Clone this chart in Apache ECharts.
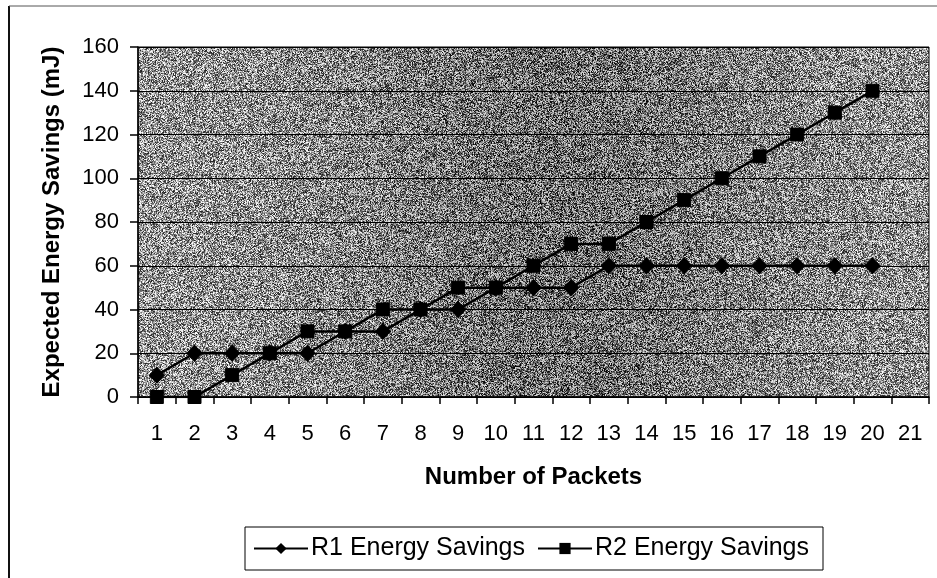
<!DOCTYPE html>
<html>
<head>
<meta charset="utf-8">
<script src="https://cdn.jsdelivr.net/npm/echarts@6.0.0/dist/echarts.min.js"></script>
<style>
    html, body { margin: 0; padding: 0; background: #ffffff; }
    #chart { width: 937px; height: 578px; }
</style>
</head>
<body>
<div id="chart"></div>
<script>
const packets = ["1", "2", "3", "4", "5", "6", "7", "8", "9", "10", "11", "12", "13", "14", "15", "16", "17", "18", "19", "20", "21"];
const r1Savings = [10, 20, 20, 20, 20, 30, 30, 40, 40, 50, 50, 50, 60, 60, 60, 60, 60, 60, 60, 60];
const r2Savings = [0, 0, 10, 20, 30, 30, 40, 40, 50, 50, 60, 70, 70, 80, 90, 100, 110, 120, 130, 140];
const yTicks = [0, 20, 40, 60, 80, 100, 120, 140, 160];

const fontName = "Liberation Sans, Arial, sans-serif";

// speckled grey fill like the scanned plot area (deterministic hash, not data)
function hash(x, y) {
    let n = Math.imul(x, 374761393) + Math.imul(y, 668265263);
    n = Math.imul(n ^ (n >>> 13), 1274126177);
    return ((n ^ (n >>> 16)) >>> 0) / 4294967296;
}

function makeTexture(w, h) {
    let canvas = document.createElement("canvas");
    canvas.width = w;
    canvas.height = h;
    let ctx = canvas.getContext("2d");
    let img = ctx.createImageData(w, h);
    for (let y = 0; y < h; y++) {
        for (let x = 0; x < w; x++) {
            let d = (x - 560) / 230;
            let base = 150 - 40 * Math.exp(-d * d);
            let v = base + (hash(x, y) - 0.5) * 230;
            v = Math.max(0, Math.min(255, v));
            let i = (y * w + x) * 4;
            img.data[i] = v;
            img.data[i + 1] = v;
            img.data[i + 2] = v;
            img.data[i + 3] = 255;
        }
    }
    ctx.putImageData(img, 0, 0);
    return canvas;
}

let chart = echarts.init(document.getElementById("chart"), null, { renderer: "canvas" });

chart.setOption({
    animation: false,
    backgroundColor: "#ffffff",
    textStyle: {
        fontFamily: fontName,
        color: "#000",
    },
    grid: {
        left: 138,
        right: 8,
        top: 47,
        height: 350,
        show: true,
        backgroundColor: {
            image: makeTexture(937, 578),
            repeat: "no-repeat",
        },
        borderColor: "#000",
        borderWidth: 1,
    },
    graphic: [
        {
            type: "line",
            shape: { x1: 9, y1: 6, x2: 9, y2: 578 },
            style: { stroke: "#111", lineWidth: 2 },
        },
        {
            type: "line",
            shape: { x1: 9, y1: 6, x2: 937, y2: 6 },
            style: { stroke: "#555", lineWidth: 1 },
        },
    ],
    legend: {
        left: 245,
        top: 527,
        orient: "horizontal",
        padding: [9, 14, 9, 8],
        itemGap: 12,
        itemWidth: 54,
        itemHeight: 14,
        borderColor: "#000",
        borderWidth: 1,
        backgroundColor: "#fff",
        textStyle: {
            fontFamily: fontName,
            fontSize: 25,
            color: "#000",
            padding: [0, 0, 0, -2],
        },
        data: ["R1 Energy Savings", "R2 Energy Savings"],
    },
    xAxis: {
        type: "category",
        data: packets,
        boundaryGap: true,
        name: "Number of Packets",
        nameLocation: "middle",
        nameGap: 68,
        nameTextStyle: {
            fontFamily: fontName,
            fontSize: 24,
            fontWeight: "bold",
            color: "#000",
        },
        axisLine: { lineStyle: { color: "#000", width: 1.5 } },
        axisTick: { show: true, length: 7, lineStyle: { color: "#000", width: 1.5 } },
        axisLabel: {
            fontFamily: fontName,
            fontSize: 22,
            color: "#000",
            margin: 26,
            interval: 0,
        },
        splitLine: { show: false },
    },
    yAxis: {
        type: "value",
        min: yTicks[0],
        max: yTicks[yTicks.length - 1],
        interval: 20,
        name: "Expected Energy Savings (mJ)",
        nameLocation: "middle",
        nameGap: 74,
        nameTextStyle: {
            fontFamily: fontName,
            fontSize: 24,
            fontWeight: "bold",
            color: "#000",
        },
        axisLine: { show: true, lineStyle: { color: "#000", width: 1.5 } },
        axisTick: { show: true, length: 8, lineStyle: { color: "#000", width: 1.5 } },
        axisLabel: {
            fontFamily: fontName,
            fontSize: 22,
            color: "#000",
            margin: 19,
        },
        splitLine: { show: true, lineStyle: { color: "#000", width: 1 } },
    },
    series: [
        {
            name: "R1 Energy Savings",
            type: "line",
            data: r1Savings,
            symbol: "diamond",
            symbolSize: [15, 16],
            showAllSymbol: true,
            lineStyle: { color: "#000", width: 2.5 },
            itemStyle: { color: "#000", borderColor: "#000" },
            z: 3,
        },
        {
            name: "R2 Energy Savings",
            type: "line",
            data: r2Savings,
            symbol: "rect",
            symbolSize: 13,
            showAllSymbol: true,
            lineStyle: { color: "#000", width: 2.5 },
            itemStyle: { color: "#000", borderColor: "#000" },
            z: 4,
        },
    ],
});

window.addEventListener("resize", () => {
    chart.resize();
});
</script>
</body>
</html>
